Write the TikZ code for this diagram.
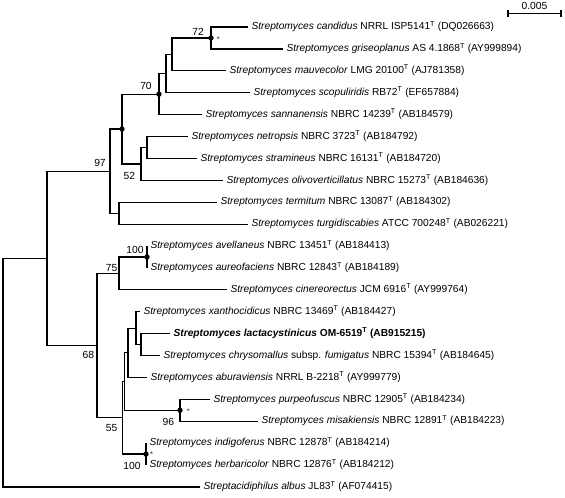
\documentclass[tikz,border=0pt]{standalone}
\usepackage{fontspec}
\setmainfont{Liberation Sans}
\newcommand\supT{\textsuperscript{T}}
\begin{document}
\begin{tikzpicture}[x=1pt,y=-1pt,line width=1.2pt,
  leaf/.style={anchor=west,inner xsep=3pt,inner ysep=0pt,text height=7.5pt,text depth=2pt,font=\fontsize{10.2}{12}\selectfont},
  lbl/.style={inner sep=0pt,font=\fontsize{10.3}{12}\selectfont},
  ast/.style={inner sep=0pt,font=\fontsize{8.5}{9}\selectfont,text=black!70},
  dot/.style={fill=black}]
\useasboundingbox (0,0) rectangle (565,498);
% leaves
\node[leaf] (L0) at (248,27.0) {\textit{Streptomyces candidus} NRRL ISP5141\supT{} (DQ026663)};
\node[leaf] (L1) at (283,48.9) {\textit{Streptomyces griseoplanus} AS 4.1868\supT{} (AY999894)};
\node[leaf] (L2) at (226,70.8) {\textit{Streptomyces mauvecolor} LMG 20100\supT{} (AJ781358)};
\node[leaf] (L3) at (250,92.7) {\textit{Streptomyces scopuliridis} RB72\supT{} (EF657884)};
\node[leaf] (L4) at (202,114.6) {\textit{Streptomyces sannanensis} NBRC 14239\supT{} (AB184579)};
\node[leaf] (L5) at (188,136.5) {\textit{Streptomyces netropsis} NBRC 3723\supT{} (AB184792)};
\node[leaf] (L6) at (197,158.4) {\textit{Streptomyces stramineus} NBRC 16131\supT{} (AB184720)};
\node[leaf] (L7) at (223,180.3) {\textit{Streptomyces olivoverticillatus} NBRC 15273\supT{} (AB184636)};
\node[leaf] (L8) at (217,202.2) {\textit{Streptomyces termitum} NBRC 13087\supT{} (AB184302)};
\node[leaf] (L9) at (248,224.1) {\textit{Streptomyces turgidiscabies} ATCC 700248\supT{} (AB026221)};
\node[leaf] (L10) at (147,246.0) {\textit{Streptomyces avellaneus} NBRC 13451\supT{} (AB184413)};
\node[leaf] (L11) at (147,267.9) {\textit{Streptomyces aureofaciens} NBRC 12843\supT{} (AB184189)};
\node[leaf] (L12) at (227,289.8) {\textit{Streptomyces cinereorectus} JCM 6916\supT{} (AY999764)};
\node[leaf] (L13) at (140,311.7) {\textit{Streptomyces xanthocidicus} NBRC 13469\supT{} (AB184427)};
\node[leaf] (L14) at (170,333.6) {\textbf{\textit{Streptomyces lactacystinicus} OM-6519\supT{} (AB915215)}};
\node[leaf] (L15) at (160,355.5) {\textit{Streptomyces chrysomallus} subsp. \textit{fumigatus} NBRC 15394\supT{} (AB184645)};
\node[leaf] (L16) at (147,377.4) {\textit{Streptomyces aburaviensis} NRRL B-2218\supT{} (AY999779)};
\node[leaf] (L17) at (210,399.3) {\textit{Streptomyces purpeofuscus} NBRC 12905\supT{} (AB184234)};
\node[leaf] (L18) at (258,421.2) {\textit{Streptomyces misakiensis} NBRC 12891\supT{} (AB184223)};
\node[leaf] (L19) at (146,443.1) {\textit{Streptomyces indigoferus} NBRC 12878\supT{} (AB184214)};
\node[leaf] (L20) at (146,465.0) {\textit{Streptomyces herbaricolor} NBRC 12876\supT{} (AB184212)};
\node[leaf] (L21) at (200,486.9) {\textit{Streptacidiphilus albus} JL83\supT{} (AF074415)};
% internal nodes
\coordinate (n72) at (211,37.95);
\coordinate (nA) at (172,54.4);
\coordinate (nB) at (166,73.55);
\coordinate (n70) at (159,94.1);
\coordinate (nNet) at (147,147.45);
\coordinate (n52) at (141,163.9);
\coordinate (nD) at (122,129.0);
\coordinate (nTer) at (119,213.15);
\coordinate (n97) at (110,171.1);
\coordinate (n100a) at (147,256.95);
\coordinate (n75) at (119,273.4);
\coordinate (nLac) at (141,344.55);
\coordinate (nX) at (136,328.1);
\coordinate (nAb) at (128,352.75);
\coordinate (n96) at (180,410.25);
\coordinate (nE) at (124.5,381.5);
\coordinate (n100b) at (146,454.05);
\coordinate (n55) at (122.5,417.8);
\coordinate (n68) at (97,345.6);
\coordinate (nF) at (47,258.3);
\coordinate (root) at (3,372.6);
% branches
\draw (n72) |- (L0.west);  \draw (n72) |- (L1.west);
\draw (nA) |- (n72);       \draw (nA) |- (L2.west);
\draw (nB) |- (nA);        \draw (nB) |- (L3.west);
\draw (n70) |- (nB);       \draw (n70) |- (L4.west);
\draw (nNet) |- (L5.west); \draw (nNet) |- (L6.west);
\draw (n52) |- (nNet);     \draw (n52) |- (L7.west);
\draw (nD) |- (n70);       \draw (nD) |- (n52);
\draw (nTer) |- (L8.west); \draw (nTer) |- (L9.west);
\draw (n97) |- (nD);       \draw (n97) |- (nTer);
\draw (n100a) |- (L10.west); \draw (n100a) |- (L11.west);
\draw (n75) |- (n100a);    \draw (n75) |- (L12.west);
\draw (nLac) |- (L14.west); \draw (nLac) |- (L15.west);
\draw (nX) |- (L13.west);  \draw (nX) |- (nLac);
\draw (nAb) |- (nX);       \draw (nAb) |- (L16.west);
\draw (n96) |- (L17.west); \draw (n96) |- (L18.west);
\draw (nE) |- (nAb);       \draw (nE) |- (n96);
\draw (n100b) |- (L19.west); \draw (n100b) |- (L20.west);
\draw (n55) |- (nE);       \draw (n55) |- (n100b);
\draw (n68) |- (n75);      \draw (n68) |- (n55);
\draw (nF) |- (n97);       \draw (nF) |- (n68);
\draw (root) |- (nF);      \draw (root) |- (L21.west);
% dots
\foreach \n in {n72,n70,nD,n100a,n96,n100b} \fill[dot] (\n) circle (2.7);
% bootstrap labels
\node[lbl] (b72) at (198,31.8) {72};
\node[lbl] (b70) at (146,86) {70};
\node[lbl] (b97) at (100,163.3) {97};
\node[lbl] (b52) at (129.3,175.5) {52};
\node[lbl] (b100a) at (135,250) {100};
\node[lbl] (b75) at (111.7,267.7) {75};
\node[lbl] (b68) at (88.3,355) {68};
\node[lbl] (b55) at (111.7,427.7) {55};
\node[lbl] (b96) at (168.3,421.7) {96};
\node[lbl] (b100b) at (132,465.5) {100};
\node[ast] (a1) at (218.3,39.5) {*};
\node[ast] (a2) at (188.3,411.5) {*};
\node[ast] (a3) at (151.5,455) {*};
% scale bar
\coordinate (sbL) at (508,13.5);
\coordinate (sbR) at (561,13.5);
\draw (sbL) -- (sbR);
\draw (508,9.5) -- (508,17);
\draw (561,9.5) -- (561,17);
\node[lbl] (sbt) at (534.5,5.5) {0.005};
\end{tikzpicture}
\end{document}
